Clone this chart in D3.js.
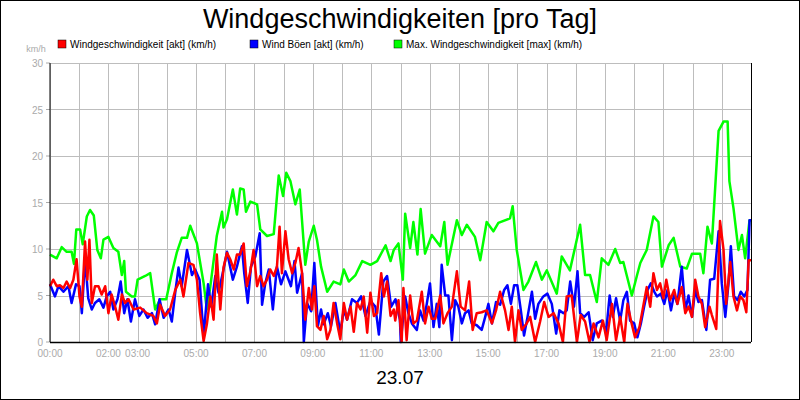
<!DOCTYPE html>
<html><head><meta charset="utf-8">
<script src="https://cdn.jsdelivr.net/npm/d3@7"></script>
<style>body{margin:0;background:#fff}svg{display:block;font-family:"Liberation Sans",Arial,sans-serif}</style>
</head><body><div id="chart"></div>
<script>
// [hour, km/h]
const maxWind = [[0,9.4],[.23,9.0],[.4,10.2],[.57,9.7],[.74,9.7],[.82,8.4],[.9,12.1],[1.03,12.1],[1.12,10.5],[1.26,13.5],[1.37,14.2],[1.5,13.6],[1.62,9.9],[1.74,9.0],[1.83,11.0],[2.0,11.3],[2.17,10.1],[2.34,9.7],[2.46,7.2],[2.54,8.7],[2.6,5.4],[2.8,4.9],[2.91,4.9],[3.0,6.7],[3.26,7.1],[3.43,7.4],[3.6,3.5],[3.77,4.6],[3.98,4.6],[4.17,7.4],[4.34,9.6],[4.51,11.2],[4.69,11.2],[4.8,12.5],[5.03,10.6],[5.26,6.3],[5.37,3.5],[5.49,6.0],[5.71,11.4],[5.89,14.0],[5.94,12.3],[6.06,13.2],[6.26,16.4],[6.4,13.7],[6.51,16.5],[6.63,16.4],[6.71,14.0],[6.86,15.1],[7.09,14.8],[7.2,12.1],[7.43,11.4],[7.66,11.6],[7.83,17.9],[7.98,15.7],[8.09,18.2],[8.23,17.3],[8.4,14.8],[8.55,16.4],[8.74,8.3],[8.86,10.8],[9.03,12.5],[9.14,11.0],[9.28,8.1],[9.49,5.4],[9.71,6.5],[9.94,6.2],[10.06,7.8],[10.23,6.5],[10.46,7.2],[10.69,8.7],[10.97,8.3],[11.2,8.7],[11.49,10.4],[11.66,8.7],[11.77,9.9],[11.93,10.6],[12.08,6.7],[12.16,13.8],[12.33,10.1],[12.44,12.9],[12.58,9.4],[12.69,14.3],[12.84,9.5],[13.07,11.5],[13.36,10.3],[13.5,12.9],[13.61,8.3],[13.93,13.1],[14.1,11.5],[14.27,12.6],[14.55,11.3],[14.73,8.8],[14.95,12.9],[15.18,11.9],[15.35,12.8],[15.75,13.3],[15.84,14.6],[15.98,9.9],[16.21,5.6],[16.38,6.5],[16.64,8.6],[16.84,6.7],[17.01,7.7],[17.35,5.2],[17.52,9.2],[17.8,7.7],[18.15,12.6],[18.32,7.2],[18.49,7.2],[18.72,4.3],[18.89,9.0],[19.12,8.3],[19.35,10.0],[19.52,8.5],[19.63,8.6],[19.92,5.0],[20.1,7.2],[20.21,8.5],[20.43,9.9],[20.66,13.5],[20.83,12.9],[20.95,8.1],[21.18,10.4],[21.35,11.2],[21.58,8.1],[21.8,7.9],[21.98,9.5],[22.26,9.5],[22.37,7.4],[22.51,12.4],[22.66,10.6],[22.89,22.7],[23.06,23.7],[23.2,23.7],[23.26,17.3],[23.4,14.4],[23.57,9.9],[23.69,11.5],[23.8,9.0],[23.95,13.1]];

const gustWind = [[0,6.2],[.17,4.9],[.29,6.0],[.46,5.4],[.63,6.0],[.74,4.2],[.89,6.2],[1.01,6.0],[1.09,3.1],[1.2,9.0],[1.31,4.7],[1.43,3.5],[1.54,4.2],[1.69,4.6],[1.83,3.7],[1.94,4.9],[2.06,5.4],[2.17,3.5],[2.31,4.6],[2.42,6.5],[2.54,3.1],[2.65,4.6],[2.77,2.2],[2.91,4.6],[3.06,2.8],[3.2,3.5],[3.34,2.6],[3.49,3.1],[3.6,1.9],[3.75,4.6],[3.89,2.6],[4.06,3.5],[4.17,2.2],[4.29,5.4],[4.4,8.0],[4.51,6.0],[4.69,9.9],[4.86,7.2],[4.97,7.8],[5.12,6.7],[5.26,0.6],[5.41,6.2],[5.52,3.8],[5.66,7.1],[5.77,5.3],[5.94,7.8],[6.06,9.7],[6.26,6.7],[6.4,8.1],[6.57,10.3],[6.65,7.4],[6.77,4.2],[6.88,8.1],[7.03,9.2],[7.18,11.7],[7.26,4.0],[7.37,6.3],[7.49,7.8],[7.63,3.5],[7.77,8.1],[7.91,6.2],[8.06,7.6],[8.25,6.0],[8.37,8.7],[8.46,5.3],[8.63,7.4],[8.69,0],[8.8,4.2],[8.94,3.3],[9.05,8.5],[9.17,1.7],[9.28,3.5],[9.37,1.9],[9.51,3.1],[9.62,1.7],[9.77,4.2],[9.94,1.0],[10.06,3.5],[10.17,2.4],[10.34,4.6],[10.51,4.2],[10.65,4.9],[10.8,2.8],[10.97,4.4],[11.14,3.8],[11.26,0.8],[11.41,6.5],[11.54,7.1],[11.68,3.8],[11.83,4.6],[11.98,2.4],[12.01,0],[12.16,4.9],[12.27,3.1],[12.39,2.0],[12.56,1.3],[12.67,3.4],[12.79,2.3],[12.9,4.1],[13.01,6.3],[13.13,1.6],[13.24,4.1],[13.33,1.6],[13.41,8.3],[13.53,5.0],[13.64,5.0],[13.76,0.2],[13.87,4.5],[13.98,3.8],[14.1,2.0],[14.21,3.1],[14.33,3.4],[14.44,2.0],[14.61,1.8],[14.78,1.3],[14.9,2.7],[15.01,4.1],[15.13,2.0],[15.27,4.3],[15.41,4.0],[15.55,5.6],[15.66,6.1],[15.78,4.1],[15.89,6.1],[16.0,6.1],[16.12,3.4],[16.23,0.7],[16.35,2.7],[16.5,5.4],[16.61,2.5],[16.72,4.1],[16.89,4.9],[17.03,5.2],[17.18,4.1],[17.33,0.9],[17.44,3.4],[17.58,3.1],[17.69,3.4],[17.81,6.5],[17.94,3.8],[18.06,7.6],[18.15,3.1],[18.29,2.7],[18.44,3.2],[18.58,0.2],[18.72,2.0],[18.89,2.3],[19.04,1.1],[19.16,5.0],[19.27,2.7],[19.38,4.7],[19.52,2.3],[19.63,4.5],[19.75,5.4],[19.86,2.3],[20.0,2.0],[20.11,0.5],[20.23,2.0],[20.34,3.8],[20.46,5.6],[20.57,6.3],[20.69,5.4],[20.78,4.9],[20.91,5.2],[21.03,4.1],[21.14,5.6],[21.26,3.4],[21.37,5.2],[21.48,4.1],[21.63,8.1],[21.75,3.4],[21.86,5.0],[21.98,2.7],[22.09,5.6],[22.2,4.3],[22.32,4.5],[22.47,1.3],[22.6,6.7],[22.74,6.8],[22.89,11.9],[23.0,6.3],[23.12,2.7],[23.23,6.3],[23.31,10.3],[23.42,4.9],[23.54,4.5],[23.65,5.4],[23.77,4.9],[23.88,5.6],[23.95,13.1]];

const actWind = [[0,6.0],[.11,6.7],[.23,6.0],[.34,6.1],[.46,5.8],[.57,6.5],[.69,5.8],[.8,6.7],[.91,8.9],[1.01,4.9],[1.09,3.8],[1.2,10.8],[1.28,6.7],[1.35,11.0],[1.43,4.2],[1.54,6.0],[1.66,6.0],[1.77,5.1],[1.89,6.0],[2.0,3.1],[2.11,5.1],[2.23,3.8],[2.34,2.4],[2.46,5.1],[2.57,4.2],[2.69,4.6],[2.86,3.5],[3.09,3.7],[3.31,3.1],[3.54,2.8],[3.66,2.0],[3.77,4.0],[3.94,2.8],[4.11,3.5],[4.29,5.6],[4.46,6.7],[4.57,4.9],[4.74,8.5],[4.91,8.3],[5.03,6.7],[5.14,3.1],[5.26,0.1],[5.37,1.9],[5.49,4.9],[5.6,2.4],[5.71,9.4],[5.83,3.5],[5.94,8.0],[6.06,9.6],[6.17,8.9],[6.29,7.8],[6.4,9.4],[6.51,9.4],[6.63,10.6],[6.74,6.0],[6.86,7.6],[6.97,9.9],[7.09,6.0],[7.2,7.1],[7.31,6.0],[7.43,6.7],[7.54,7.8],[7.66,7.1],[7.77,8.1],[7.86,12.4],[7.94,7.4],[8.06,11.9],[8.17,8.9],[8.29,7.4],[8.4,8.5],[8.51,10.1],[8.63,7.4],[8.74,2.4],[8.86,5.8],[8.97,3.5],[9.05,6.0],[9.14,1.7],[9.26,1.3],[9.37,2.8],[9.49,0.3],[9.6,1.3],[9.71,4.2],[9.83,2.0],[9.94,0.3],[10.06,4.2],[10.17,2.4],[10.29,3.8],[10.4,1.1],[10.51,4.2],[10.63,3.5],[10.74,4.9],[10.86,1.0],[10.97,5.3],[11.09,2.8],[11.2,3.1],[11.34,7.4],[11.43,4.9],[11.54,6.5],[11.66,2.8],[11.77,3.5],[11.82,2.3],[11.93,4.5],[12.04,0],[12.1,5.8],[12.21,0.2],[12.33,5.0],[12.44,2.0],[12.56,2.3],[12.73,5.4],[12.84,2.0],[12.96,3.8],[13.07,2.5],[13.19,2.5],[13.36,5.0],[13.47,2.0],[13.61,3.1],[13.76,3.8],[13.93,7.6],[14.06,3.8],[14.21,3.4],[14.35,6.5],[14.47,1.3],[14.61,3.1],[14.78,3.2],[14.95,3.4],[15.13,2.0],[15.27,3.4],[15.41,5.4],[15.58,3.4],[15.7,1.3],[15.81,3.8],[15.92,0],[16.04,3.4],[16.15,1.3],[16.32,2.0],[16.44,2.7],[16.61,0],[16.78,2.2],[16.92,4.3],[17.07,2.7],[17.24,3.1],[17.41,2.0],[17.56,0],[17.69,4.9],[17.86,5.0],[18.04,0],[18.17,2.9],[18.32,2.2],[18.47,0],[18.61,2.0],[18.78,0.5],[18.93,2.3],[19.06,0.2],[19.24,4.1],[19.38,0.2],[19.52,2.7],[19.66,0],[19.77,4.1],[19.89,2.3],[20.03,0.5],[20.18,1.6],[20.32,4.0],[20.43,5.9],[20.55,3.8],[20.66,7.4],[20.78,5.6],[20.89,6.3],[21.0,4.7],[21.1,6.7],[21.23,4.5],[21.37,5.6],[21.48,4.1],[21.63,5.9],[21.75,3.1],[21.86,3.8],[21.98,2.7],[22.09,6.7],[22.2,4.9],[22.32,4.1],[22.43,1.6],[22.58,3.8],[22.66,2.9],[22.81,1.4],[22.94,13.0],[23.06,9.9],[23.15,4.1],[23.29,8.6],[23.4,4.9],[23.52,3.4],[23.63,4.9],[23.74,4.5],[23.84,3.2],[23.92,8.8]];

const yTicks = [0, 5, 10, 15, 20, 25, 30];
const xLabelHours = [0, 2, 3, 5, 7, 9, 11, 13, 15, 17, 19, 21, 23];
const legendItems = [
  { label: 'Windgeschwindigkeit [akt] (km/h)', color: '#ff0000', x: 58 },
  { label: 'Wind Böen [akt] (km/h)', color: '#0000ff', x: 250 },
  { label: 'Max. Windgeschwindigkeit [max] (km/h)', color: '#00ff00', x: 394 }
];

const W = 800, H = 400;
const margin = { left: 50, top: 63, right: 49, bottom: 58 };
const svg = d3.select('#chart').append('svg').attr('width', W).attr('height', H);
svg.append('rect').attr('x', .5).attr('y', .5).attr('width', W - 1).attr('height', H - 1)
  .attr('fill', '#fff').attr('stroke', '#000');

const x = d3.scaleLinear().domain([0, 24]).range([margin.left, W - margin.right]);
const y = d3.scaleLinear().domain([0, 30]).range([H - margin.bottom, margin.top]);

// grid
const grid = svg.append('g').attr('stroke', '#bdbdbd').attr('stroke-width', 1);
grid.selectAll('.vg').data(d3.range(0, 25)).enter().append('line')
  .attr('x1', d => Math.round(x(d)) + .5).attr('x2', d => Math.round(x(d)) + .5)
  .attr('y1', y(30)).attr('y2', y(0));
grid.selectAll('.hg').data(yTicks).enter().append('line')
  .attr('x1', x(0)).attr('x2', x(24))
  .attr('y1', d => Math.round(y(d)) + .5).attr('y2', d => Math.round(y(d)) + .5);

// y axis labels
svg.append('g').selectAll('text').data(yTicks).enter().append('text')
  .attr('x', x(0) - 7).attr('y', d => y(d) + 4).attr('text-anchor', 'end')
  .attr('font-size', 10).attr('fill', '#aaa').text(d => d);
svg.append('g').selectAll('line').data(yTicks).enter().append('line')
  .attr('x1', x(0) - 4).attr('x2', x(0)).attr('y1', d => y(d)).attr('y2', d => y(d)).attr('stroke', '#aaa');
svg.append('text').attr('x', 36).attr('y', 52).attr('text-anchor', 'middle')
  .attr('font-size', 9).attr('fill', '#aaa').text('km/h');

// x labels
svg.append('g').selectAll('text').data(xLabelHours).enter().append('text')
  .attr('x', d => x(d)).attr('y', 357).attr('text-anchor', 'middle')
  .attr('font-size', 10).attr('fill', '#aaa').text(d => d3.format('02')(d) + ':00');

// series
const line = d3.line().x(d => x(d[0])).y(d => y(d[1]));
[[maxWind, '#00ff00'], [gustWind, '#0000ff'], [actWind, '#ff0000']].forEach(([data, c]) => {
  svg.append('path').datum(data.concat([[24, data[data.length - 1][1]]])).attr('d', line)
    .attr('fill', 'none').attr('stroke', c).attr('stroke-width', 2.5).attr('stroke-linejoin', 'round');
});

// axes lines
svg.append('line').attr('x1', x(0)).attr('x2', x(0)).attr('y1', y(30)).attr('y2', y(0)).attr('stroke', '#000');
svg.append('line').attr('x1', x(24) + .5).attr('x2', x(24) + .5).attr('y1', y(30)).attr('y2', y(0)).attr('stroke', '#000');
svg.append('line').attr('x1', x(0)).attr('x2', x(24)).attr('y1', y(0) + .5).attr('y2', y(0) + .5).attr('stroke', '#000').attr('stroke-width', 1.5);

// title, legend, date
svg.append('text').attr('x', 400).attr('y', 28).attr('text-anchor', 'middle')
  .attr('font-size', 27).text('Windgeschwindigkeiten [pro Tag]');
const lg = svg.append('g').selectAll('g').data(legendItems).enter().append('g')
  .attr('transform', d => `translate(${d.x},0)`);
lg.append('rect').attr('x', 0).attr('y', 40).attr('width', 8).attr('height', 8)
  .attr('fill', d => d.color).attr('stroke', '#000').attr('stroke-width', .5);
lg.append('text').attr('x', 12).attr('y', 48).attr('font-size', 10).text(d => d.label);
svg.append('text').attr('x', 400).attr('y', 384).attr('text-anchor', 'middle')
  .attr('font-size', 19).text('23.07');
</script></body></html>
